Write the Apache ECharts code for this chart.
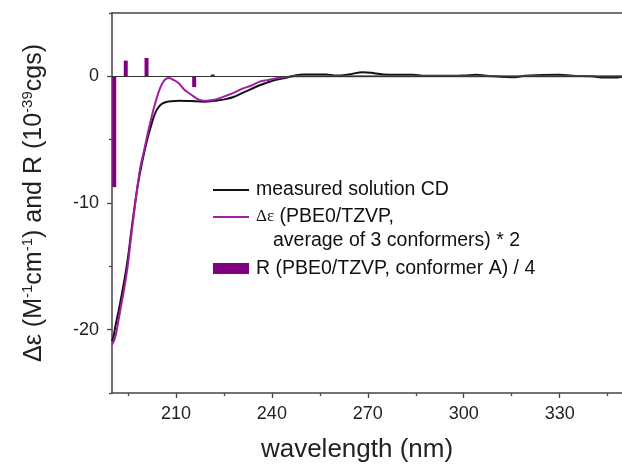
<!DOCTYPE html>
<html>
<head>
<meta charset="utf-8">
<script src="https://cdn.jsdelivr.net/npm/echarts@6/dist/echarts.min.js"></script>
<style>
  html, body { margin: 0; padding: 0; background: #fff; }
  #chart { width: 622px; height: 464px; }
</style>
</head>
<body>
<div id="chart"></div>
<script>
// Measured solution CD spectrum
const measuredWavelength = [190, 190.6, 191, 192, 193, 194, 195, 196, 197, 198, 199, 200, 201, 202, 203, 204, 205, 206, 207, 208.5, 211, 214.5, 218.7, 222.9, 225.5, 228, 230.5, 233.3, 236, 238.5, 241, 243.7, 247, 250, 257, 260, 264, 268.5, 272, 275, 284, 288, 295, 300, 304, 307, 316, 319, 330, 334, 340, 344, 348, 350];
const measuredCD = [-20.9, -20.4, -19.8, -18.6, -17.3, -15.9, -14.3, -12.3, -10.4, -8.7, -7.3, -6.1, -5.0, -4.1, -3.25, -2.65, -2.3, -2.12, -2.02, -1.96, -1.92, -1.95, -2.0, -1.9, -1.8, -1.63, -1.35, -1.03, -0.72, -0.5, -0.3, -0.16, 0.05, 0.15, 0.15, 0.06, 0.15, 0.33, 0.25, 0.15, 0.12, 0.04, 0.04, 0.07, 0.12, 0.05, -0.08, 0.04, 0.12, 0.04, 0.0, -0.1, -0.1, 0.0];

// Calculated Δε (PBE0/TZVP, average of 3 conformers), scaled by 2
const calcWavelength = [190, 191, 192, 193, 194, 195, 196, 197, 198, 199, 200, 201, 202, 203, 204, 205, 206, 207, 207.8, 209, 210.8, 212.4, 213.9, 215.6, 217, 218.7, 221, 223, 226, 228, 231, 233.3, 236.4, 238.5, 241, 243.7, 247, 260, 300, 350];
const calcDeltaEps = [-21.2, -20.6, -19.3, -17.9, -16.5, -14.8, -12.6, -10.6, -8.6, -7.0, -5.9, -4.7, -3.6, -2.6, -1.7, -0.95, -0.45, -0.18, -0.13, -0.25, -0.53, -1.0, -1.3, -1.6, -1.82, -1.93, -1.88, -1.78, -1.5, -1.3, -0.95, -0.76, -0.4, -0.3, -0.17, -0.08, 0, 0, 0, 0];

// Rotational strengths R (PBE0/TZVP, conformer A), scaled by 1/4
const rotWavelength = [190.7, 194.3, 200.8, 215.7, 221.5];
const rotStrength = [-8.75, 1.24, 1.45, -0.85, 0.15];

// Axis ticks
const xMajorTicks = [210, 240, 270, 300, 330];
const xMinorTicks = [195, 225, 255, 285, 315, 345];
const yMajorTicks = [-20, -10, 0];
const yMinorTicks = [-25, -15, -5, 5];

const zip = (xs, ys) => xs.map((x, i) => [x, ys[i]]);

const axisColor = '#454545';
const textColor = '#222';
const lineMagenta = '#a41ca4';
const barPurple = '#800080';
const font = 'Liberation Sans, Arial, sans-serif';

const xRange = { min: 190, max: 349.5 };
const yRange = { min: -25, max: 5 };

const chart = echarts.init(document.getElementById('chart'), null, { renderer: 'canvas' });

const option = {
  animation: false,
  backgroundColor: '#fff',
  grid: { left: 112, right: 0, top: 13, bottom: 71, outerBoundsMode: 'none', containLabel: false },
  xAxis: [
    {
      type: 'value', ...xRange,
      position: 'bottom',
      axisLine: { show: true, onZero: false, lineStyle: { color: axisColor, width: 1.5 } },
      axisTick: { show: true, customValues: xMajorTicks, length: 5, lineStyle: { color: axisColor, width: 1.3 } },
      axisLabel: { customValues: xMajorTicks, margin: 12, color: textColor, fontSize: 18, fontFamily: font },
      splitLine: { show: false },
      name: 'wavelength (nm)',
      nameLocation: 'middle',
      nameGap: 44,
      nameTextStyle: { fontSize: 26, color: textColor, fontFamily: font, padding: [0, 20, 0, 0] }
    },
    {
      type: 'value', ...xRange,
      position: 'bottom',
      axisLine: { show: false, onZero: false },
      axisTick: { show: true, customValues: xMinorTicks, length: 3, lineStyle: { color: axisColor, width: 1.3 } },
      axisLabel: { show: false },
      splitLine: { show: false }
    },
    {
      // frame line along the top of the plot
      type: 'value', ...xRange,
      position: 'top',
      axisLine: { show: true, onZero: false, lineStyle: { color: axisColor, width: 1.5 } },
      axisTick: { show: false },
      axisLabel: { show: false },
      splitLine: { show: false }
    }
  ],
  yAxis: [
    {
      type: 'value', ...yRange,
      position: 'left',
      axisLine: { show: true, onZero: false, lineStyle: { color: axisColor, width: 1.5 } },
      axisTick: { show: true, customValues: yMajorTicks, length: 5, lineStyle: { color: axisColor, width: 1.3 } },
      axisLabel: { customValues: yMajorTicks, margin: 13, color: textColor, fontSize: 18, fontFamily: font },
      splitLine: { show: false },
      name: 'Δε (M{sup|-1}cm{sup|-1}) and R (10{sup|-39}cgs)',
      nameLocation: 'middle',
      nameRotate: 90,
      nameGap: 64,
      nameTextStyle: {
        fontSize: 25, color: textColor, fontFamily: font,
        rich: {
          sup: { fontSize: 15, color: textColor, fontFamily: font, verticalAlign: 'top', lineHeight: 28 }
        }
      }
    },
    {
      type: 'value', ...yRange,
      position: 'left',
      axisLine: { show: false, onZero: false },
      axisTick: { show: true, customValues: yMinorTicks, length: 3, lineStyle: { color: axisColor, width: 1.3 } },
      axisLabel: { show: false },
      splitLine: { show: false }
    }
  ],
  series: [
    {
      name: 'R (PBE0/TZVP, conformer A) / 4',
      type: 'bar',
      xAxisIndex: 0, yAxisIndex: 0,
      data: zip(rotWavelength, rotStrength),
      barWidth: 4,
      itemStyle: { color: barPurple },
      markLine: {
        silent: true,
        symbol: ['none', 'none'],
        label: { show: false },
        lineStyle: { color: '#333', width: 1, type: 'solid' },
        data: [{ yAxis: 0 }]
      },
      z: 2
    },
    {
      name: 'measured solution CD',
      type: 'line',
      xAxisIndex: 0, yAxisIndex: 0,
      data: zip(measuredWavelength, measuredCD),
      showSymbol: false,
      smooth: 0.35,
      lineStyle: { color: '#111', width: 2 },
      z: 3
    },
    {
      name: 'Δε (PBE0/TZVP, average of 3 conformers) * 2',
      type: 'line',
      xAxisIndex: 0, yAxisIndex: 0,
      data: zip(calcWavelength, calcDeltaEps),
      showSymbol: false,
      smooth: 0.35,
      lineStyle: { color: lineMagenta, width: 2 },
      z: 4
    }
  ],
  graphic: [
    { type: 'line', shape: { x1: 213, y1: 190, x2: 249, y2: 190 }, style: { stroke: '#111', lineWidth: 2 } },
    { type: 'text', x: 256, y: 190, style: { text: 'measured solution CD', fontSize: 19.5, fontFamily: font, fill: '#111', verticalAlign: 'middle' } },
    { type: 'line', shape: { x1: 213, y1: 217, x2: 249, y2: 217 }, style: { stroke: lineMagenta, lineWidth: 2 } },
    { type: 'text', x: 256, y: 217, style: {
        text: '{g|Δε} (PBE0/TZVP,', fontSize: 19.5, fontFamily: font, fill: '#111', verticalAlign: 'middle',
        rich: { g: { fontSize: 17, fontFamily: 'Liberation Serif, serif', fill: '#111' } }
      } },
    { type: 'text', x: 273, y: 241, style: { text: 'average of 3 conformers) * 2', fontSize: 19.5, fontFamily: font, fill: '#111', verticalAlign: 'middle' } },
    { type: 'rect', shape: { x: 213, y: 263, width: 36, height: 11 }, style: { fill: barPurple } },
    { type: 'text', x: 256, y: 268.5, style: { text: 'R (PBE0/TZVP, conformer A) / 4', fontSize: 19.5, fontFamily: font, fill: '#111', verticalAlign: 'middle' } }
  ]
};

chart.setOption(option);
</script>
</body>
</html>
